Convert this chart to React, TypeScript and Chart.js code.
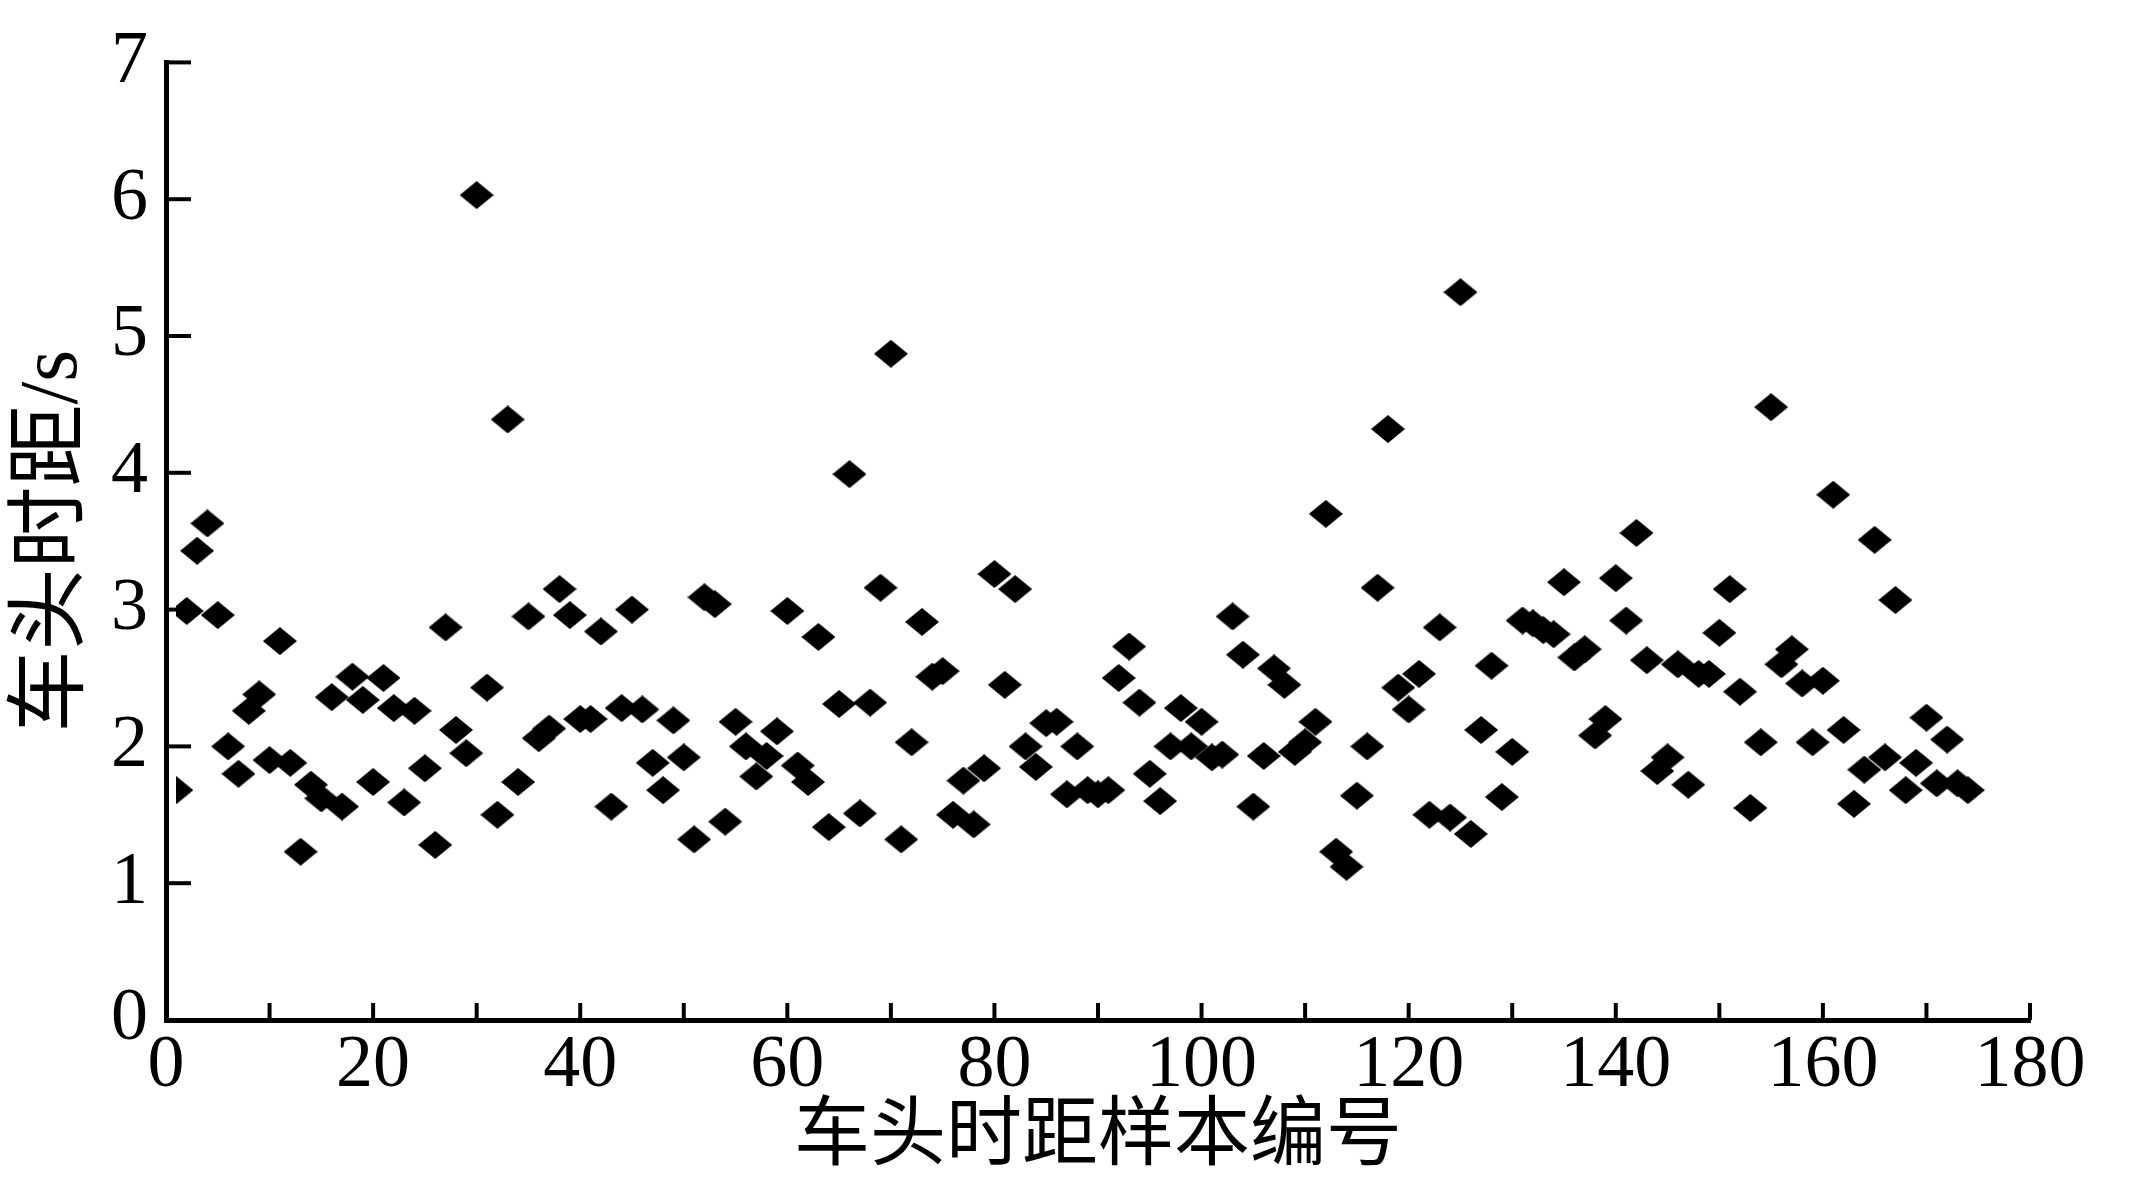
import React, { useEffect, useRef } from "react";
import { Chart, registerables } from "chart.js";

Chart.register(...registerables);

const sampleIndex: number[] = Array.from({ length: 174 }, (_, i) => i + 1);

const headways: number[] = [
  1.68, 2.99, 3.43, 3.63, 2.96, 2.0, 1.8, 2.26, 2.38, 1.9,
  2.77, 1.88, 1.23, 1.72, 1.62, 2.36, 1.56, 2.51, 2.34, 1.74,
  2.5, 2.28, 1.59, 2.26, 1.84, 1.28, 2.87, 2.12, 1.95, 6.03,
  2.43, 1.5, 4.39, 1.74, 2.95, 2.06, 2.13, 3.15, 2.96, 2.2,
  2.2, 2.84, 1.56, 2.28, 3.0, 2.27, 1.88, 1.68, 2.19, 1.92,
  1.32, 3.09, 3.04, 1.45, 2.18, 2.0, 1.78, 1.93, 2.11, 2.99,
  1.86, 1.74, 2.8, 1.41, 2.31, 3.99, 1.51, 2.32, 3.16, 4.87,
  1.32, 2.03, 2.91, 2.51, 2.55, 1.5, 1.75, 1.43, 1.84, 3.26,
  2.45, 3.15, 2.0, 1.85, 2.17, 2.18, 1.65, 2.0, 1.68, 1.65,
  1.68, 2.5, 2.73, 2.32, 1.8, 1.6, 2.0, 2.28, 2.0, 2.18,
  1.92, 1.94, 2.95, 2.67, 1.56, 1.93, 2.57, 2.45, 1.96, 2.03,
  2.18, 3.7, 1.23, 1.12, 1.64, 2.0, 3.16, 4.32, 2.43, 2.27,
  2.53, 1.5, 2.87, 1.48, 5.32, 1.36, 2.12, 2.59, 1.63, 1.96,
  2.92, 2.9, 2.85, 2.82, 3.2, 2.65, 2.71, 2.08, 2.2, 3.23,
  2.92, 3.56, 2.63, 1.82, 1.92, 2.6, 1.72, 2.53, 2.53, 2.83,
  3.15, 2.4, 1.55, 2.03, 4.48, 2.6, 2.71, 2.46, 2.03, 2.48,
  3.84, 2.12, 1.58, 1.83, 3.51, 1.92, 3.07, 1.68, 1.88, 2.21,
  1.73, 2.05, 1.73, 1.68,
];

const xTickMarks: number[] = [0, 10, 20, 30, 40, 50, 60, 70, 80, 90, 100, 110, 120, 130, 140, 150, 160, 170, 180];
const yTickMarks: number[] = [0, 1, 2, 3, 4, 5, 6, 7];

const xTitle = "车头时距样本编号";
const yTitle = "车头时距/s";

const FONT = "'Liberation Serif', 'Times New Roman', 'Noto Sans CJK SC', serif";

function makeDiamond(): HTMLCanvasElement {
  const c = document.createElement("canvas");
  c.width = 34;
  c.height = 28;
  const g = c.getContext("2d")!;
  g.fillStyle = "#000";
  g.beginPath();
  g.moveTo(17, 0);
  g.lineTo(34, 14);
  g.lineTo(17, 28);
  g.lineTo(0, 14);
  g.closePath();
  g.fill();
  return c;
}

const inwardTicks = {
  id: "inwardTicks",
  afterDraw(chart: any) {
    const { ctx, chartArea, scales } = chart;
    const xs = scales.x;
    const ys = scales.y;
    ctx.save();
    ctx.strokeStyle = "#000";
    ctx.lineWidth = 4;
    xTickMarks.forEach((v) => {
      const px = xs.getPixelForValue(v);
      ctx.beginPath();
      ctx.moveTo(px, chartArea.bottom);
      ctx.lineTo(px, chartArea.bottom - 17);
      ctx.stroke();
    });
    yTickMarks.forEach((v) => {
      const py = ys.getPixelForValue(v);
      ctx.beginPath();
      ctx.moveTo(chartArea.left, py);
      ctx.lineTo(chartArea.left + 25, py);
      ctx.stroke();
    });
    ctx.restore();
  },
};

export default function App() {
  const ref = useRef<HTMLCanvasElement | null>(null);
  useEffect(() => {
    if (!ref.current) return;
    const diamond = makeDiamond();
    const chart = new Chart(ref.current, {
      type: "scatter",
      data: {
        datasets: [
          {
            data: sampleIndex.map((x, i) => ({ x, y: headways[i] })),
            pointStyle: diamond as any,
            backgroundColor: "#000",
            borderColor: "#000",
            clip: { left: -10, right: 40, top: 40, bottom: 40 } as any,
          },
        ],
      },
      options: {
        animation: false,
        responsive: false,
        layout: { padding: { top: 58, right: 103, left: 0, bottom: 0 } },
        plugins: { legend: { display: false }, tooltip: { enabled: false } },
        scales: {
          x: {
            type: "linear",
            min: 0,
            max: 180,
            afterFit: (s: any) => {
              s.height = 170;
            },
            ticks: { stepSize: 20, color: "#000", padding: 2, font: { family: FONT, size: 74 }, maxRotation: 0 },
            grid: { drawOnChartArea: false, drawTicks: false },
            border: { display: true, color: "#000", width: 5 },
            title: {
              display: true,
              text: xTitle,
              color: "#000",
              font: { family: FONT, size: 76 },
              padding: { top: 0, bottom: 5 },
            },
          },
          y: {
            type: "linear",
            min: 0,
            max: 7,
            afterFit: (s: any) => {
              s.width = 166;
            },
            ticks: { stepSize: 1, color: "#000", padding: 18, font: { family: FONT, size: 74 } },
            grid: { drawOnChartArea: false, drawTicks: false },
            border: { display: true, color: "#000", width: 5 },
            title: {
              display: true,
              text: yTitle,
              color: "#000",
              font: { family: FONT, size: 82 },
              padding: { top: 5, bottom: 0 },
            },
          },
        },
      },
      plugins: [inwardTicks],
    });
    return () => chart.destroy();
  }, []);
  return (
    <div style={{ position: "absolute", left: 0, top: 0, width: 2133, height: 1190, background: "#fff" }}>
      <canvas ref={ref} width={2133} height={1190} style={{ display: "block" }} />
    </div>
  );
}
